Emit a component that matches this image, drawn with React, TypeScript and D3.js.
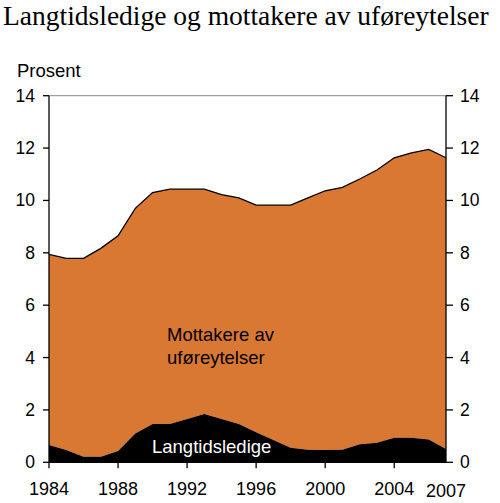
import React from "react";
import * as d3 from "d3";

const years = [1984, 1985, 1986, 1987, 1988, 1989, 1990, 1991, 1992, 1993, 1994, 1995, 1996, 1997, 1998, 1999, 2000, 2001, 2002, 2003, 2004, 2005, 2006, 2007];
const langtidsledige = [0.66, 0.47, 0.21, 0.21, 0.43, 1.1, 1.46, 1.46, 1.65, 1.84, 1.65, 1.46, 1.15, 0.85, 0.56, 0.48, 0.47, 0.48, 0.69, 0.75, 0.94, 0.94, 0.87, 0.51];
const mottakere = [7.28, 7.32, 7.58, 7.96, 8.22, 8.6, 8.84, 8.97, 8.78, 8.59, 8.57, 8.64, 8.67, 8.97, 9.26, 9.62, 9.9, 10.02, 10.13, 10.41, 10.69, 10.88, 11.08, 11.12];
const xTicks = [1984, 1988, 1992, 1996, 2000, 2004, 2007];
const yTicks = [0, 2, 4, 6, 8, 10, 12, 14];
const title = "Langtidsledige og mottakere av uføreytelser";

export default function App() {
  const W = 500, H = 503;
  const left = 49, right = 446, top = 95.7, bottom = 462.3;
  const x = d3.scaleLinear().domain([1984, 2007]).range([left, right]);
  const y = d3.scaleLinear().domain([0, 14]).range([bottom, top]);
  const rows = years.map((yr, i) => ({ year: yr, l: langtidsledige[i], m: mottakere[i] }));
  const stack = d3.stack<any>().keys(["l", "m"])(rows);
  const area = d3.area<any>()
    .x((d: any) => x(d.data.year))
    .y0((d: any) => y(d[0]))
    .y1((d: any) => y(d[1]));
  const topLine = d3.line<any>().x((d: any) => x(d.data.year)).y((d: any) => y(d[1]));
  const colors = ["#000000", "#D87833"];
  const font = "Liberation Sans, Arial, sans-serif";
  return (
    <svg width={W} height={H} style={{ position: "absolute", left: 0, top: 0 }}>
      <rect width={W} height={H} fill="#fff" />
      <text x={3} y={25} fontFamily="Liberation Serif, Times New Roman, serif" fontSize={27.5} fill="#000">{title}</text>
      <text x={17} y={77} fontFamily={font} fontSize={18.5} fill="#000">Prosent</text>
      <line x1={left} x2={right} y1={y(14)} y2={y(14)} stroke="#888" strokeWidth={1} />
      {[stack[1], stack[0]].map((s, i) => (
        <path key={i} d={area(s as any) || ""} fill={colors[s.index]} />
      ))}
      <path d={topLine(stack[1] as any) || ""} fill="none" stroke="#000" strokeWidth={1.3} />
      <line x1={left} x2={left} y1={top} y2={bottom} stroke="#000" strokeWidth={1.3} />
      <line x1={right} x2={right} y1={top} y2={bottom} stroke="#000" strokeWidth={1.3} />
      <line x1={left} x2={right} y1={bottom} y2={bottom} stroke="#000" strokeWidth={1.3} />
      {yTicks.map((t) => (
        <g key={t}>
          <line x1={left - 6} x2={left} y1={y(t)} y2={y(t)} stroke="#000" strokeWidth={1.3} />
          <line x1={right} x2={right + 7} y1={y(t)} y2={y(t)} stroke="#000" strokeWidth={1.3} />
          <text x={35} y={y(t) + 6} textAnchor="end" fontFamily={font} fontSize={17.5}>{t}</text>
          <text x={460} y={y(t) + 6} textAnchor="start" fontFamily={font} fontSize={17.5}>{t}</text>
        </g>
      ))}
      {xTicks.map((t) => (
        <g key={t}>
          {t !== 2007 && <line x1={x(t)} x2={x(t)} y1={bottom} y2={bottom + 6} stroke="#000" strokeWidth={1.3} />}
          <text x={x(t)} y={t === 2007 ? 496.5 : 495} textAnchor="middle" fontFamily={font} fontSize={18}>{t}</text>
        </g>
      ))}
      <text x={167} y={341} fontFamily={font} fontSize={18.5} fill="#000">Mottakere av</text>
      <text x={167} y={364} fontFamily={font} fontSize={18.5} fill="#000">uføreytelser</text>
      <text x={152} y={453} fontFamily={font} fontSize={18.5} fill="#fff">Langtidsledige</text>
    </svg>
  );
}
